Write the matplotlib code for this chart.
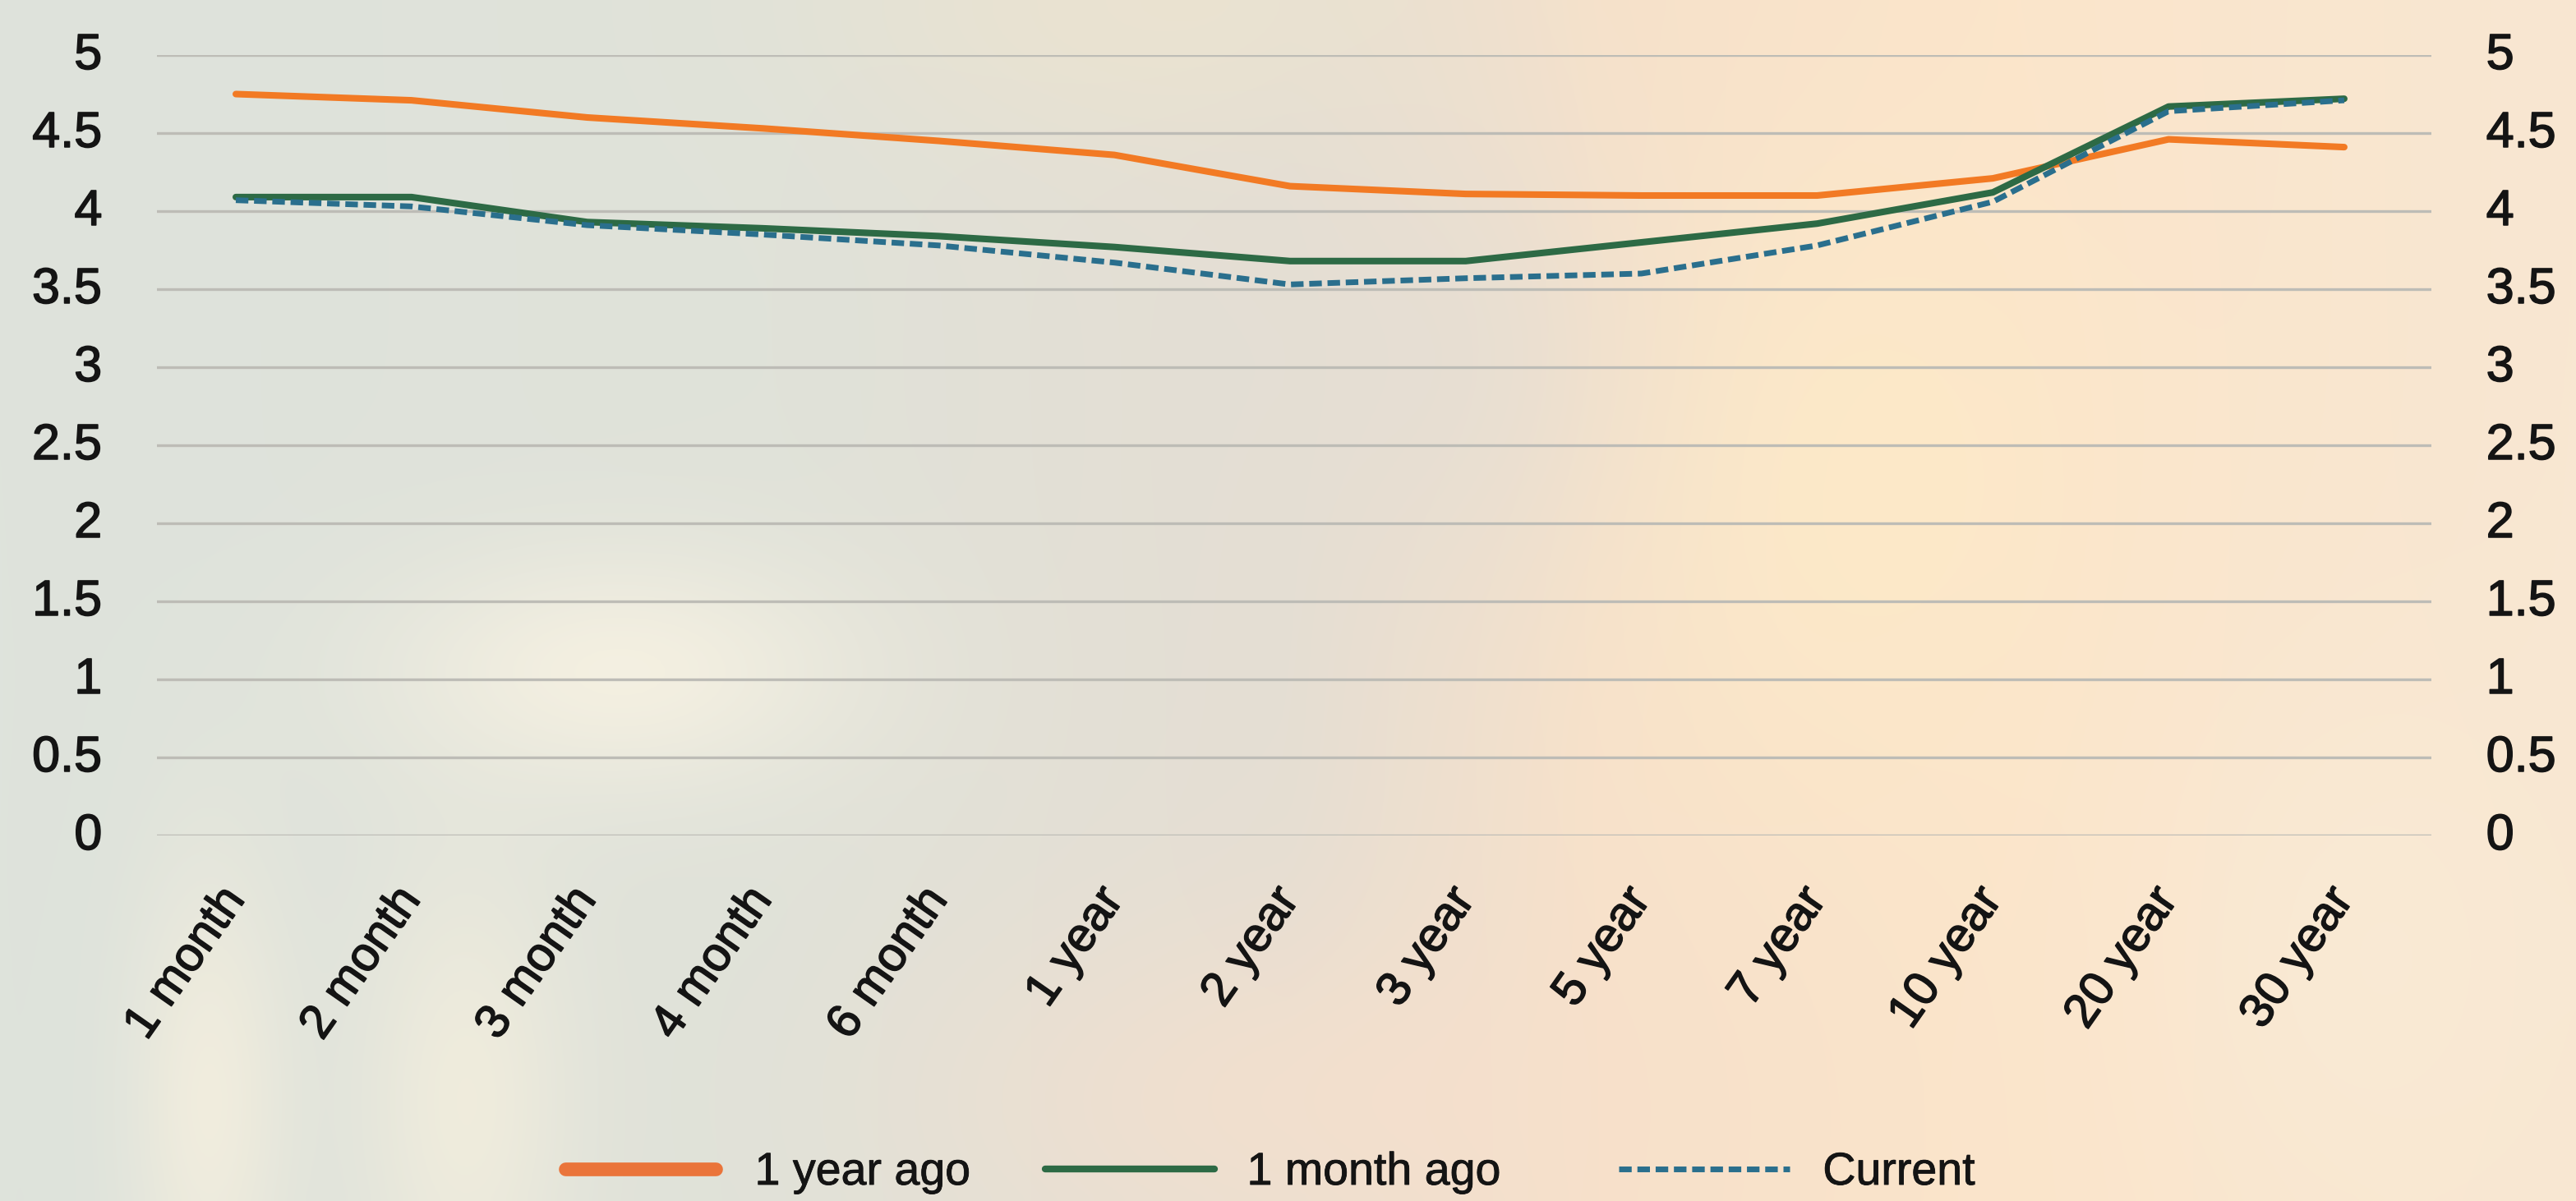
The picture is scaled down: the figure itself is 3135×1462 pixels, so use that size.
import numpy as np
import matplotlib
matplotlib.use("Agg")
import matplotlib.pyplot as plt
import matplotlib.patheffects as pe
from matplotlib.lines import Line2D
from matplotlib.transforms import ScaledTranslation

# Treasury yield curve by maturity (%)
maturities = ["1 month", "2 month", "3 month", "4 month", "6 month", "1 year",
              "2 year", "3 year", "5 year", "7 year", "10 year", "20 year", "30 year"]
year_ago = [4.75, 4.71, 4.60, 4.53, 4.45, 4.36, 4.16, 4.11, 4.10, 4.10, 4.21, 4.46, 4.41]
month_ago = [4.09, 4.09, 3.93, 3.89, 3.84, 3.77, 3.68, 3.68, 3.80, 3.92, 4.12, 4.67, 4.72]
current = [4.07, 4.03, 3.91, 3.85, 3.78, 3.67, 3.53, 3.57, 3.60, 3.78, 4.06, 4.64, 4.71]
series_names = ["1 year ago", "1 month ago", "Current"]
y_ticks = [0, 0.5, 1, 1.5, 2, 2.5, 3, 3.5, 4, 4.5, 5]

ORANGE = "#f27a24"
GREEN = "#2d6a45"
TEAL = "#2a6f8d"
INK = "#141414"
FONT = "Liberation Sans"
heavier = [pe.withStroke(linewidth=1.1, foreground=INK)]

W, H, DPI = 3135, 1462, 100
fig = plt.figure(figsize=(W / DPI, H / DPI), dpi=DPI)

# soft pastel backdrop
bg = fig.add_axes([0, 0, 1, 1], zorder=-10)
bg.set_axis_off()
nx, ny = 320, 150
u = np.linspace(0, 1, nx)[None, :]
v = np.linspace(0, 1, ny)[:, None]
stops_u = [0.0, 0.3, 0.5, 0.62, 0.78, 1.0]
stops_c = np.array([[222, 227, 220], [224, 226, 217], [229, 222, 211],
                    [247, 225, 202], [251, 229, 203], [248, 231, 210]], float)
base = np.stack([np.interp(u[0], stops_u, stops_c[:, k]) for k in range(3)], -1)
img = np.repeat(base[None, :, :], ny, axis=0)
blobs = [
    (0.24, 0.56, 0.09, 0.10, (246, 241, 226), 0.9),
    (0.72, 0.40, 0.09, 0.25, (253, 234, 200), 0.85),
    (0.45, 0.00, 0.12, 0.12, (236, 228, 208), 0.8),
    (0.08, 0.92, 0.03, 0.20, (245, 239, 222), 0.8),
    (0.18, 0.92, 0.04, 0.20, (246, 240, 222), 0.7),
    (0.52, 0.92, 0.15, 0.15, (247, 224, 204), 0.7),
    (0.92, 0.80, 0.08, 0.25, (250, 235, 214), 0.7),
    (0.56, 0.30, 0.08, 0.20, (226, 222, 214), 0.6),
]
for cx, cy, sx, sy, col, a in blobs:
    w = a * np.exp(-(((u - cx) / sx) ** 2 + ((v - cy) / sy) ** 2))
    img = img * (1 - w[..., None]) + np.array(col, float) * w[..., None]
bg.imshow(img / 255.0, extent=[0, 1, 0, 1], aspect="auto",
          interpolation="bicubic", origin="upper")
bg.set_xlim(0, 1)
bg.set_ylim(0, 1)

ax = fig.add_axes([191 / W, (H - 1017) / H, (2959 - 191) / W, (1017 - 67) / H])
ax.patch.set_alpha(0)
x = np.arange(len(maturities))

ax.plot(x, year_ago, color=ORANGE, lw=5.8, solid_capstyle="round",
        solid_joinstyle="round", zorder=3, clip_on=False)
ax.plot(x, month_ago, color=GREEN, lw=5.8, solid_capstyle="round",
        solid_joinstyle="round", zorder=4, clip_on=False)
ax.plot(x, current, color=TEAL, lw=5, linestyle=(0, (2.2, 1.0)),
        zorder=5, clip_on=False)

ax.set_xlim(-0.449, 12.496)
ax.set_ylim(0, 5)
ax.set_yticks(y_ticks)
ax.set_yticklabels([f"{t:g}" for t in y_ticks])
ax.set_xticks(x)
ax.set_xticklabels(maturities, rotation=55, ha="right", va="center",
                   rotation_mode="anchor", fontsize=42, family=FONT)
for s in ax.spines.values():
    s.set_visible(False)
ax.tick_params(axis="both", length=0)
ax.tick_params(axis="y", labelsize=44, labelright=True, pad=48,
               labelcolor=INK)
ax.tick_params(axis="x", pad=50, labelcolor=INK)
ax.grid(axis="y", color="#bdbcb6", lw=2.4, zorder=1)
ax.grid(axis="x", visible=False)
ax.set_axisbelow(True)

up = ScaledTranslation(0, 0.05, fig.dpi_scale_trans)
for t in ax.yaxis.get_major_ticks():
    for lab in (t.label1, t.label2):
        lab.set_family(FONT)
        lab.set_path_effects(heavier)
        lab.set_transform(lab.get_transform() + up)
for lab in ax.get_xticklabels():
    lab.set_path_effects(heavier)

# legend entries placed one by one
handles = [
    Line2D([], [], color="#ea743a", lw=12, solid_capstyle="round"),
    Line2D([], [], color=GREEN, lw=6, solid_capstyle="round"),
    Line2D([], [], color=TEAL, lw=5, linestyle=(0, (2.2, 1.0))),
]
starts = [688, 1272, 1970]
hlens = [3.3, 3.7, 3.75]
tpads = [0.85, 0.72, 0.72]
for h, name, x0, hl, tp in zip(handles, series_names, starts, hlens, tpads):
    leg = fig.legend([h], [name], loc="center left", frameon=False,
                     bbox_to_anchor=(x0 / W, 1 - 1428 / H),
                     bbox_transform=fig.transFigure, borderpad=0,
                     borderaxespad=0, prop={"family": FONT, "size": 40},
                     labelcolor=INK, handlelength=hl, handletextpad=tp)
    for txt in leg.get_texts():
        txt.set_path_effects([pe.withStroke(linewidth=0.6, foreground=INK)])

fig.savefig("out.png", dpi=DPI)
